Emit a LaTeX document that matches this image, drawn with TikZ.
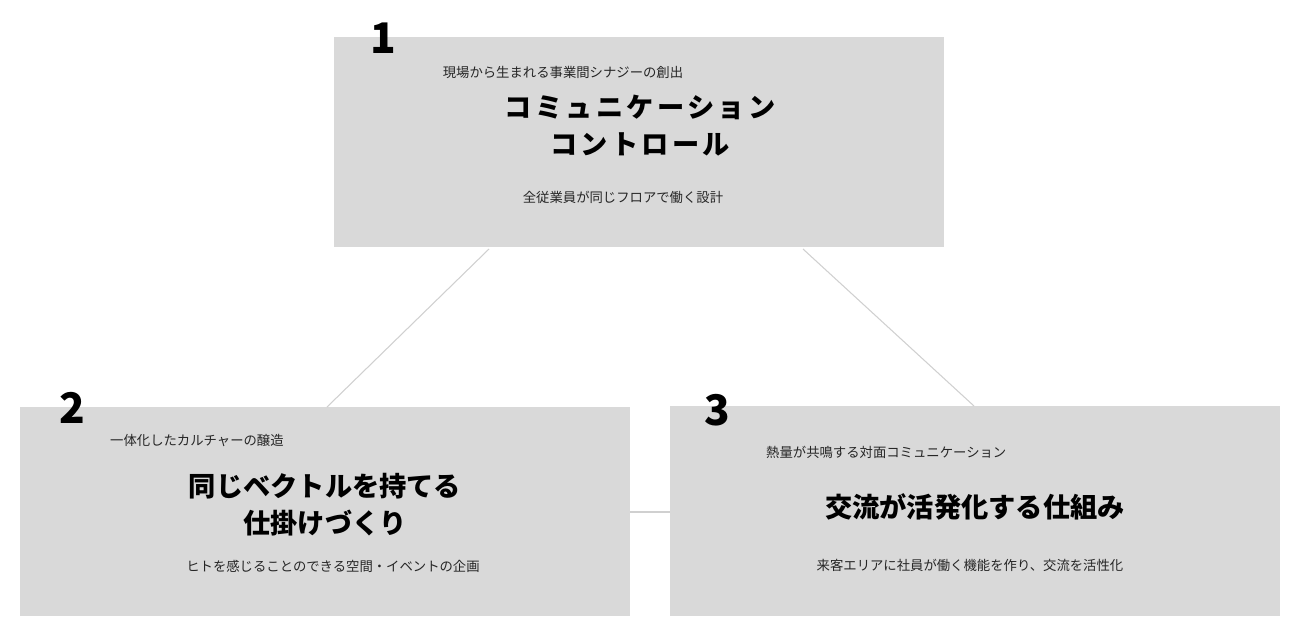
\documentclass[tikz,border=0pt]{standalone}
\usepackage{fontspec}
\newfontfamily\cjk{Noto Sans CJK JP}
\newfontfamily\cjkw[LetterSpace=12]{Noto Sans CJK JP}
\begin{document}
\begin{tikzpicture}[x=0.02cm,y=-0.02cm,
 box/.style={fill=boxgray,draw=none},
 conn/.style={draw=linegray,line width=0.6pt},
 num/.style={font=\cjk\fontsize{24}{24}\selectfont\bfseries},
 small/.style={font=\cjk\fontsize{7.6}{9}\selectfont,text=black!85},
 title/.style={font=\cjk\fontsize{15.5}{21}\selectfont\bfseries,align=center}]
\definecolor{boxgray}{HTML}{D9D9D9}
\definecolor{linegray}{HTML}{D0D0D0}
\useasboundingbox (0,0) rectangle (1302,630);
\fill[white] (0,0) rectangle (1302,630);
\path[box] (334,37) rectangle (944,247);
\path[box] (20,407) rectangle (630,616);
\path[box] (670,406) rectangle (1280,616);
\coordinate (a1) at (489,249); \coordinate (a2) at (327,407);
\coordinate (b1) at (803,249); \coordinate (b2) at (974,406);
\coordinate (c1) at (630,512); \coordinate (c2) at (670,512);
\draw[conn] (a1)--(a2); \draw[conn] (b1)--(b2); \draw[conn] (c1)--(c2);
\node[num] (n1) at (383,38) {1};
\node[small] (s1) at (563,72) {現場から生まれる事業間シナジーの創出};
\node[title,font=\cjkw\fontsize{15.5}{21}\selectfont\bfseries] (t1) at (640,126) {コミュニケーション\\コントロール};
\node[small] (b1t) at (623,197) {全従業員が同じフロアで働く設計};
\node[num] (n2) at (72,408) {2};
\node[small,anchor=west] (s2) at (104,440) {一体化したカルチャーの醸造};
\node[title] (t2) at (325,505) {同じベクトルを持てる\\仕掛けづくり};
\node[small] (b2t) at (333,566) {ヒトを感じることのできる空間・イベントの企画};
\node[num] (n3) at (717,410) {3};
\node[small,anchor=west] (s3) at (760,452) {熱量が共鳴する対面コミュニケーション};
\node[title] (t3) at (975,507) {交流が活発化する仕組み};
\node[small] (b3t) at (970,565) {来客エリアに社員が働く機能を作り、交流を活性化};
\end{tikzpicture}
\end{document}
